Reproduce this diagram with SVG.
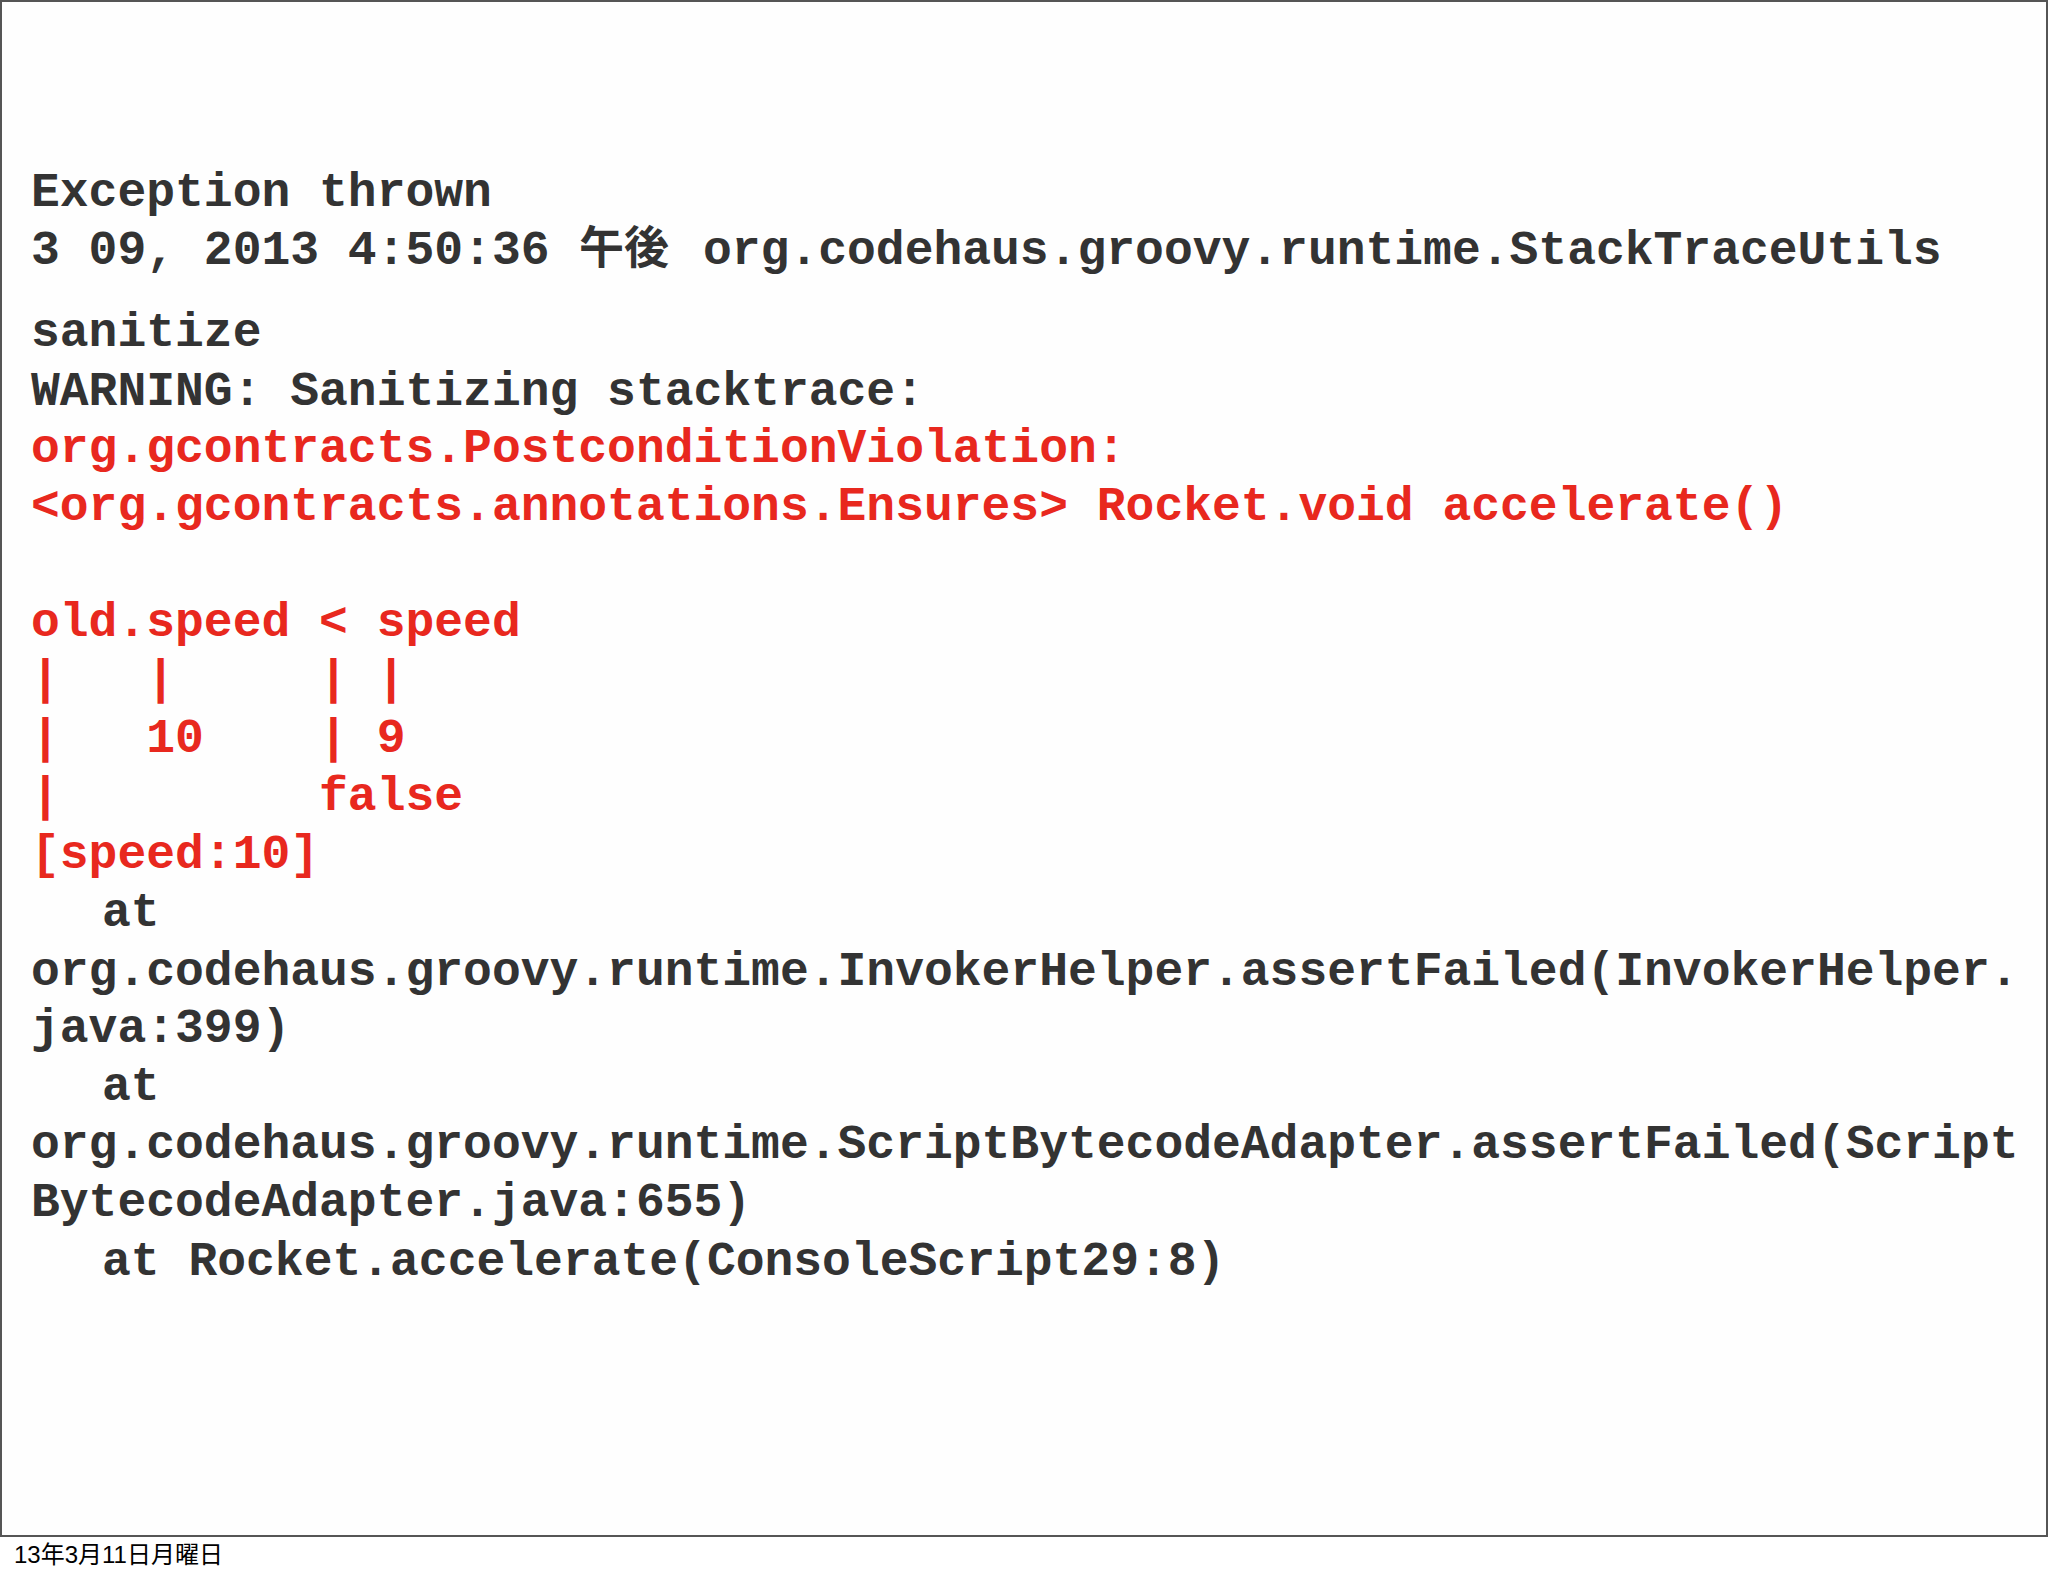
<svg xmlns="http://www.w3.org/2000/svg" width="2048" height="1576" viewBox="0 0 2048 1576">
<style>
.t{font-family:"Liberation Mono","Noto Sans CJK JP",monospace;font-weight:bold;font-size:48px;fill:#333;white-space:pre}
.r{fill:#e8281e}
.j{font-family:"Noto Sans CJK JP",sans-serif;font-weight:bold;font-size:45px;fill:#333}
.f{font-family:"Liberation Sans","Noto Sans CJK JP",sans-serif;font-size:24px;fill:#000}
</style>
<rect x="0" y="0" width="2048" height="1576" fill="#fff"/>
<rect x="1" y="1" width="2046" height="1535" fill="#fefefe" stroke="#555" stroke-width="2"/>
<g id="text" xml:space="preserve">
<text class="t" x="31" y="206">Exception thrown</text>
<text class="t" x="31" y="264">3 09, 2013 4:50:36 <tspan class="j" x="579">午後</tspan><tspan x="703">org.codehaus.groovy.runtime.StackTraceUtils</tspan></text>
<text class="t" x="31" y="346">sanitize</text>
<text class="t" x="31" y="405">WARNING: Sanitizing stacktrace:</text>
<text class="t r" x="31" y="462">org.gcontracts.PostconditionViolation:</text>
<text class="t r" x="31" y="520">&lt;org.gcontracts.annotations.Ensures&gt; Rocket.void accelerate()</text>
<text class="t r" x="31" y="636">old.speed &lt; speed</text>
<text class="t r" x="31" y="693">|   |     | |</text>
<text class="t r" x="31" y="752">|   10    | 9</text>
<text class="t r" x="31" y="810">|         false</text>
<text class="t r" x="31" y="868">[speed:10]</text>
<text class="t" x="102" y="926">at</text>
<text class="t" x="31" y="985">org.codehaus.groovy.runtime.InvokerHelper.assertFailed(InvokerHelper.</text>
<text class="t" x="31" y="1042">java:399)</text>
<text class="t" x="102" y="1100">at</text>
<text class="t" x="31" y="1158">org.codehaus.groovy.runtime.ScriptBytecodeAdapter.assertFailed(Script</text>
<text class="t" x="31" y="1216">BytecodeAdapter.java:655)</text>
<text class="t" x="102" y="1275">at Rocket.accelerate(ConsoleScript29:8)</text>
</g>
<text class="f" x="14" y="1563">13年3月11日月曜日</text>
</svg>
